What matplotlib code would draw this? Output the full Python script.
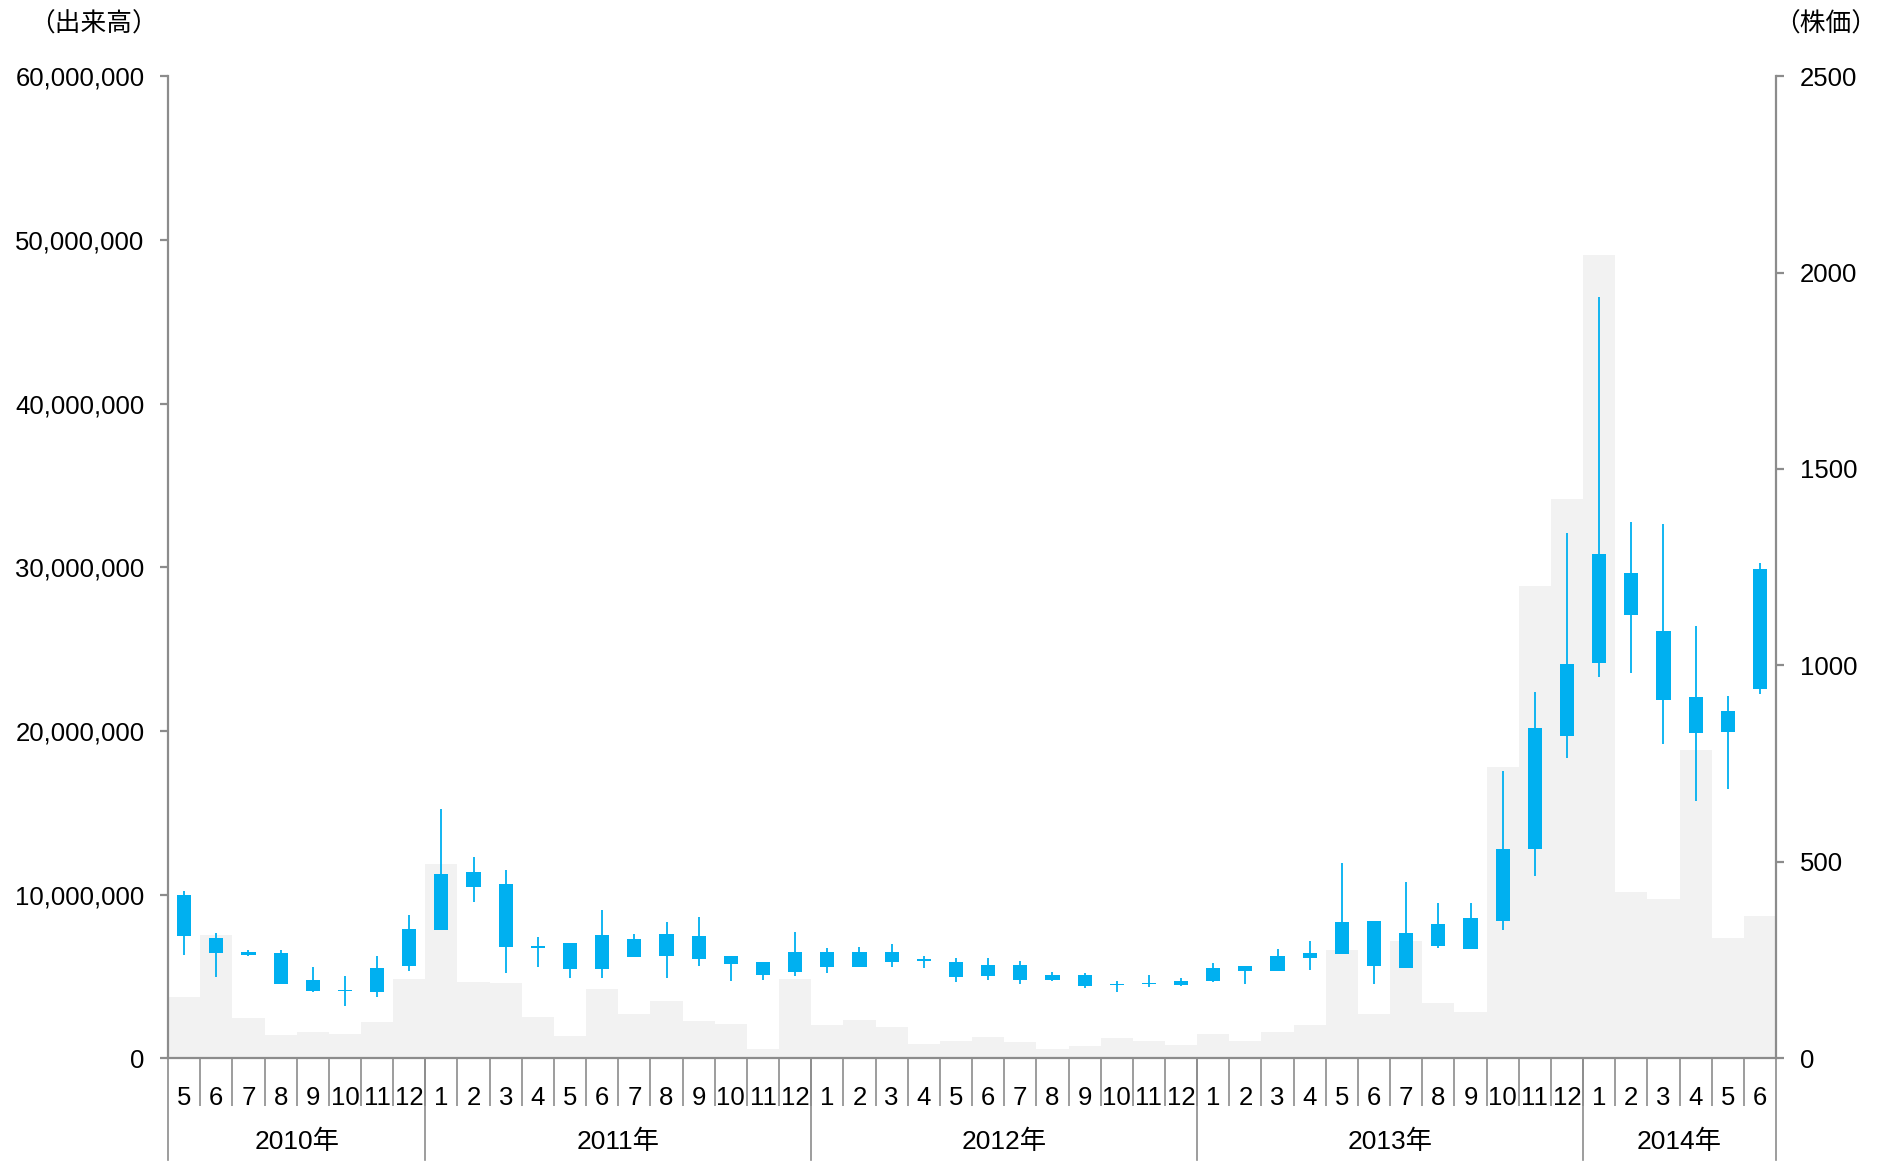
import numpy as np
import matplotlib
matplotlib.use("Agg")
import matplotlib.pyplot as plt
from matplotlib.ticker import FuncFormatter, MultipleLocator, FixedLocator

plt.rcParams['font.family'] = ['Liberation Sans', 'Noto Sans CJK JP']

# months from 2010/5 to 2014/6
years = [2010, 2011, 2012, 2013, 2014]
months = ([5, 6, 7, 8, 9, 10, 11, 12] + list(range(1, 13)) * 3 + [1, 2, 3, 4, 5, 6])

# monthly volume (millions of shares)
volume = [3.77, 7.53, 2.46, 1.43, 1.63, 1.47, 2.22, 4.85,
          11.87, 4.66, 4.62, 2.50, 1.38, 4.21, 2.69, 3.50, 2.28, 2.10, 0.59, 4.85,
          2.05, 2.36, 1.93, 0.86, 1.08, 1.32, 1.00, 0.57, 0.73, 1.26, 1.08, 0.79,
          1.51, 1.08, 1.59, 2.02, 6.62, 2.71, 7.17, 3.39, 2.85, 17.77, 28.85, 34.16,
          49.08, 10.18, 9.73, 18.83, 7.35, 8.67]

# monthly candles (yen)
open_px = [415, 306, 270, 268, 199, 172, 170, 235,
           327, 474, 443, 286, 293, 228, 304, 261, 311, 260, 245, 220,
           271, 233, 271, 251, 246, 238, 238, 200, 213, 186, 188, 187,
           198, 222, 223, 256, 266, 350, 231, 287, 279, 350, 533, 821,
           1007, 1235, 1087, 919, 831, 939]
close_px = [312, 269, 264, 190, 172, 174, 230, 329,
            469, 436, 284, 282, 228, 314, 258, 316, 253, 240, 212, 270,
            232, 271, 246, 249, 208, 210, 200, 213, 185, 187, 190, 198,
            231, 236, 261, 269, 348, 236, 320, 343, 356, 533, 841, 1004,
            1283, 1129, 913, 829, 884, 1245]
high_px = [426, 318, 277, 275, 233, 209, 260, 365,
           634, 513, 479, 308, 293, 378, 316, 347, 360, 260, 245, 322,
           281, 284, 292, 261, 255, 255, 247, 220, 217, 196, 211, 204,
           243, 236, 279, 298, 497, 350, 448, 395, 395, 731, 933, 1336,
           1938, 1365, 1359, 1100, 922, 1260]
low_px = [264, 208, 261, 190, 168, 134, 156, 222,
          327, 399, 218, 233, 204, 204, 258, 204, 235, 197, 199, 209,
          218, 233, 233, 229, 195, 200, 190, 196, 178, 170, 181, 183,
          195, 190, 223, 224, 266, 190, 231, 282, 279, 327, 465, 765,
          971, 980, 799, 654, 686, 927]

grey = '#8c8c8c'
blue = '#00B0F0'

x = np.arange(len(months))
vol = np.array(volume) * 1e6
o = np.array(open_px)
c = np.array(close_px)
body_lo = np.minimum(o, c)
body_h = np.maximum(np.abs(c - o), 3)

fig = plt.figure(figsize=(18.84, 11.67), dpi=100)
ax = fig.add_axes([0.0892, 0.0931, 0.8535, 0.8417])
ax.bar(x, vol, width=1.0, color='#F2F2F2', linewidth=0, zorder=1)
ax.set_xlim(-0.5, len(months) - 0.5)
ax.set_ylim(0, 60e6)
ax.yaxis.set_major_locator(MultipleLocator(10e6))
ax.yaxis.set_major_formatter(FuncFormatter(lambda v, p: f"{int(v):,}"))

ax2 = ax.twinx()
ax2.vlines(x, low_px, high_px, color=blue, linewidth=1.3, zorder=3)
ax2.bar(x, body_h, bottom=body_lo, width=0.44, color=blue, linewidth=0, zorder=4)
ax2.set_ylim(0, 2500)
ax2.yaxis.set_major_locator(MultipleLocator(500))

for a in (ax, ax2):
    for s in a.spines.values():
        s.set_color(grey)
        s.set_linewidth(1.6)
    a.spines['top'].set_visible(False)
ax.spines['right'].set_visible(False)
ax2.spines['left'].set_visible(False)
ax2.spines['bottom'].set_visible(False)

ax.tick_params(axis='y', length=6, width=1.6, color=grey, labelsize=18.5, pad=11)
ax2.tick_params(axis='y', length=6, width=1.6, color=grey, labelsize=18.5, pad=11)

# month labels with separators
ax.xaxis.set_major_locator(FixedLocator(x))
ax.set_xticklabels([str(m) for m in months])
ax.xaxis.set_minor_locator(FixedLocator(x[1:] - 0.5))
ax.tick_params(axis='x', which='major', length=0, labelsize=18.5, pad=20)
ax.tick_params(axis='x', which='minor', length=34.5, width=1.2, color=grey)

# year separators and labels
starts = [0] + [i for i in range(1, len(months)) if months[i] == 1] + [len(months)]
trans = ax.get_xaxis_transform()
for b in starts:
    ax.plot([b - 0.5, b - 0.5], [0, -0.1035], color=grey, linewidth=1.2,
            transform=trans, clip_on=False)
for yr, s, e in zip(years, starts[:-1], starts[1:]):
    ax.text((s + e - 1) / 2, -0.085, f"{yr}年", transform=trans,
            ha='center', va='center', fontsize=19)

fig.text(0.0496, 0.979, "（出来高）", ha='center', va='center', fontsize=18.5)
fig.text(0.969, 0.979, "（株価）", ha='center', va='center', fontsize=18.5)

fig.savefig("out.png", dpi=100)
